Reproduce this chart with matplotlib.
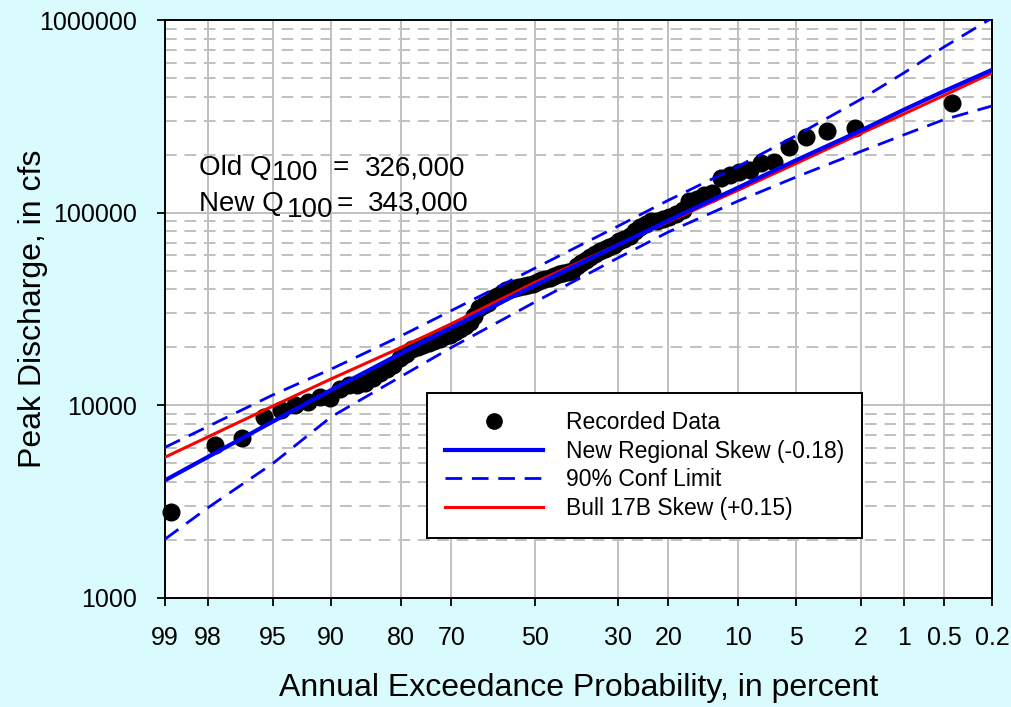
import math
import numpy as np
import matplotlib
matplotlib.use('Agg')
import matplotlib.pyplot as plt
from matplotlib.ticker import FixedLocator, FixedFormatter, NullLocator, LogLocator, NullFormatter
from matplotlib.lines import Line2D

plt.rcParams['font.family'] = ['Liberation Sans', 'DejaVu Sans']

# Recorded annual peaks: exceedance probability (percent) and discharge (cfs)
obs_prob = [0.43, 2.2, 3.3, 4.4, 5.5, 6.6, 7.7, 8.8, 9.9, 11.0,
            12.1, 13.2, 14.3, 15.4, 16.5, 17.6, 18.7, 19.8, 20.9, 22.0,
            23.1, 24.2, 25.3, 26.4, 27.5, 28.6, 29.7, 30.8, 31.9, 33.0,
            34.1, 35.2, 36.3, 37.4, 38.5, 39.6, 40.7, 41.8, 42.9, 44.0,
            45.1, 46.2, 47.3, 48.4, 49.5, 50.5, 51.6, 52.7, 53.8, 54.9,
            56.0, 57.1, 58.2, 59.3, 60.4, 61.5, 62.6, 63.7, 64.8, 65.9,
            67.0, 68.1, 69.2, 70.3, 71.4, 72.5, 73.6, 74.7, 75.8, 76.9,
            78.0, 79.1, 80.2, 81.3, 82.4, 83.5, 84.6, 85.7, 86.8, 87.9,
            89.0, 90.1, 91.2, 92.3, 93.4, 94.5, 95.6, 96.7, 97.8, 98.9]
obs_q = [371000, 276000, 266000, 248000, 220000, 184000, 180000, 167000, 163000, 157000,
         152000, 127000, 123000, 118000, 115000, 103000, 99000, 95000, 93000, 91000,
         90000, 87000, 84000, 80000, 76000, 73000, 71000, 68000, 66000, 65000,
         63000, 61000, 59000, 57000, 55000, 53000, 50000, 49000, 48500, 48000,
         47000, 46000, 45500, 44500, 43500, 42500, 42000, 41500, 41000, 40500,
         40000, 39500, 38500, 37000, 36000, 34000, 33000, 32000, 29000, 27000,
         25800, 25000, 24000, 23300, 22800, 22200, 21500, 21000, 20500, 20000,
         19700, 18500, 17700, 16100, 15500, 14800, 13800, 13100, 12700, 12800,
         12200, 10900, 11000, 10400, 10000, 9500, 8700, 6750, 6200, 2790]

# Frequency curves read at the axis probabilities
curve_prob = [99, 98, 95, 90, 80, 70, 50, 30, 20, 10, 5, 2, 1, 0.5, 0.2]
regional_q = [4080, 5410, 8260, 12000, 18600, 25300, 41900, 67900, 91000,
              135000, 187000, 267000, 343000, 427000, 551000]
upper_q = [6050, 7780, 11350, 15400, 22900, 31000, 51400, 85100, 116000,
           174000, 251000, 388000, 533000, 724000, 1023000]
lower_q = [2020, 2950, 5010, 8700, 14100, 19950, 34300, 58200, 79400,
           115000, 153000, 208000, 254000, 304000, 358000]
bull17b_q = [5380, 6870, 9930, 13700, 19950, 26500, 43400, 68200, 89700,
             131000, 180000, 258000, 326000, 406000, 531000]

tick_prob = [99, 98, 95, 90, 80, 70, 50, 30, 20, 10, 5, 2, 1, 0.5, 0.2]
tick_labels = ['99', '98', '95', '90', '80', '70', '50', '30', '20', '10',
               '5', '2', '1', '0.5', '0.2']


# normal probability scale (Acklam's inverse normal approximation)
def norm_ppf(p):
    p = np.clip(np.asarray(p, dtype=float), 1e-12, 1 - 1e-12)
    a = [-3.969683028665376e+01, 2.209460984245205e+02, -2.759285104469687e+02,
         1.383577518672690e+02, -3.066479806614716e+01, 2.506628277459239e+00]
    b = [-5.447609879822406e+01, 1.615858368580409e+02, -1.556989798598866e+02,
         6.680131188771972e+01, -1.328068155288572e+01]
    c = [-7.784894002430293e-03, -3.223964580411365e-01, -2.400758277161838e+00,
         -2.549671010491570e+00, 4.374664141464968e+00, 2.938163982698783e+00]
    d = [7.784695709041462e-03, 3.224671290700398e-01, 2.445134137142996e+00,
         3.754408661907416e+00]
    plow = 0.02425
    q = p - 0.5
    r = q * q
    central = (((((a[0]*r + a[1])*r + a[2])*r + a[3])*r + a[4])*r + a[5]) * q / \
              (((((b[0]*r + b[1])*r + b[2])*r + b[3])*r + b[4])*r + 1)
    ql = np.sqrt(-2 * np.log(p))
    low = (((((c[0]*ql + c[1])*ql + c[2])*ql + c[3])*ql + c[4])*ql + c[5]) / \
          ((((d[0]*ql + d[1])*ql + d[2])*ql + d[3])*ql + 1)
    qh = np.sqrt(-2 * np.log(1 - p))
    high = -(((((c[0]*qh + c[1])*qh + c[2])*qh + c[3])*qh + c[4])*qh + c[5]) / \
           ((((d[0]*qh + d[1])*qh + d[2])*qh + d[3])*qh + 1)
    return np.where(p < plow, low, np.where(p > 1 - plow, high, central))


_erf = np.vectorize(math.erf)


def fwd(x):
    return norm_ppf(np.asarray(x, dtype=float) / 100.0)


def inv(z):
    return 50.0 * (1 + _erf(np.asarray(z, dtype=float) / math.sqrt(2)))


bg = '#DAFBFD'
grid_col = '#C0C0C0'

fig = plt.figure(figsize=(10.12, 7.07), dpi=100, facecolor=bg)
ax = fig.add_axes([0.1630, 0.1542, 0.8172, 0.8175])
ax.set_facecolor('white')

ax.set_xscale('function', functions=(fwd, inv))
ax.set_yscale('log')

ax.plot(obs_prob, obs_q, 'o', color='black', markersize=12, zorder=3, clip_on=False)
ax.plot(curve_prob, upper_q, color='#0000FF', lw=2, dashes=(6, 3.5), zorder=4)
ax.plot(curve_prob, lower_q, color='#0000FF', lw=2, dashes=(6, 3.5), zorder=4)
ax.plot(curve_prob, bull17b_q, color='#FF0000', lw=2.2, zorder=4)
ax.plot(curve_prob, regional_q, color='#0000FF', lw=3, zorder=5)

ax.set_xlim(99, 0.2)
ax.set_ylim(1000, 1000000)

ax.xaxis.set_major_locator(FixedLocator(tick_prob))
ax.xaxis.set_major_formatter(FixedFormatter(tick_labels))
ax.xaxis.set_minor_locator(NullLocator())
ax.yaxis.set_major_locator(FixedLocator([1000, 10000, 100000, 1000000]))
ax.yaxis.set_major_formatter(FixedFormatter(['1000', '10000', '100000', '1000000']))
ax.yaxis.set_minor_locator(LogLocator(base=10, subs=[2, 3, 4, 5, 6, 7, 8, 9]))
ax.yaxis.set_minor_formatter(NullFormatter())

ax.tick_params(axis='both', which='major', direction='out', length=6, width=1.3,
               labelsize=18, color='black')
ax.tick_params(axis='x', which='major', pad=14)
ax.tick_params(axis='y', which='major', pad=14)
ax.tick_params(axis='y', which='minor', length=0)

ax.grid(True, which='major', axis='both', color=grid_col, lw=1.4, ls='-', zorder=0)
ax.yaxis.grid(True, which='minor', color=grid_col, lw=1.4, dashes=(6, 4))
ax.set_axisbelow(True)
for s in ax.spines.values():
    s.set_color('black')
    s.set_linewidth(1.4)

ax.set_xlabel('Annual Exceedance Probability, in percent', fontsize=23)
ax.set_ylabel('Peak Discharge, in cfs', fontsize=23)
ax.xaxis.set_label_coords(0.5, -0.129)
ax.yaxis.set_label_coords(-0.141, 0.5)

# Q100 annotation
fs = 20
ax.text(0.0411, 0.7318, 'Old Q', transform=ax.transAxes, fontsize=fs, va='baseline')
ax.text(0.129, 0.7232, '100', transform=ax.transAxes, fontsize=fs, va='baseline')
ax.text(0.2031, 0.7318, '=', transform=ax.transAxes, fontsize=fs, va='baseline')
ax.text(0.2418, 0.7318, '326,000', transform=ax.transAxes, fontsize=fs, va='baseline')
ax.text(0.0411, 0.6701, 'New Q', transform=ax.transAxes, fontsize=fs, va='baseline')
ax.text(0.1472, 0.6587, '100', transform=ax.transAxes, fontsize=fs, va='baseline')
ax.text(0.2076, 0.6701, '=', transform=ax.transAxes, fontsize=fs, va='baseline')
ax.text(0.2458, 0.6701, '343,000', transform=ax.transAxes, fontsize=fs, va='baseline')

handles = [
    Line2D([], [], ls='none', marker='o', color='black', markersize=11),
    Line2D([], [], color='#0000FF', lw=3),
    Line2D([], [], color='#0000FF', lw=2, dashes=(6, 3.5)),
    Line2D([], [], color='#FF0000', lw=2.2),
]
labels = ['Recorded Data', 'New Regional Skew (-0.18)', '90% Conf Limit', 'Bull 17B Skew (+0.15)']
leg = ax.legend(handles, labels, loc='upper left', bbox_to_anchor=(0.3168, 0.3547),
                fontsize=16.5, frameon=True, fancybox=False, framealpha=1,
                edgecolor='black', handlelength=4.3, handletextpad=1.0,
                labelspacing=0.25, borderpad=0.78, borderaxespad=0)
leg.get_frame().set_linewidth(1.4)
leg.set_zorder(6)

fig.savefig('out.png', dpi=100, facecolor=bg)
